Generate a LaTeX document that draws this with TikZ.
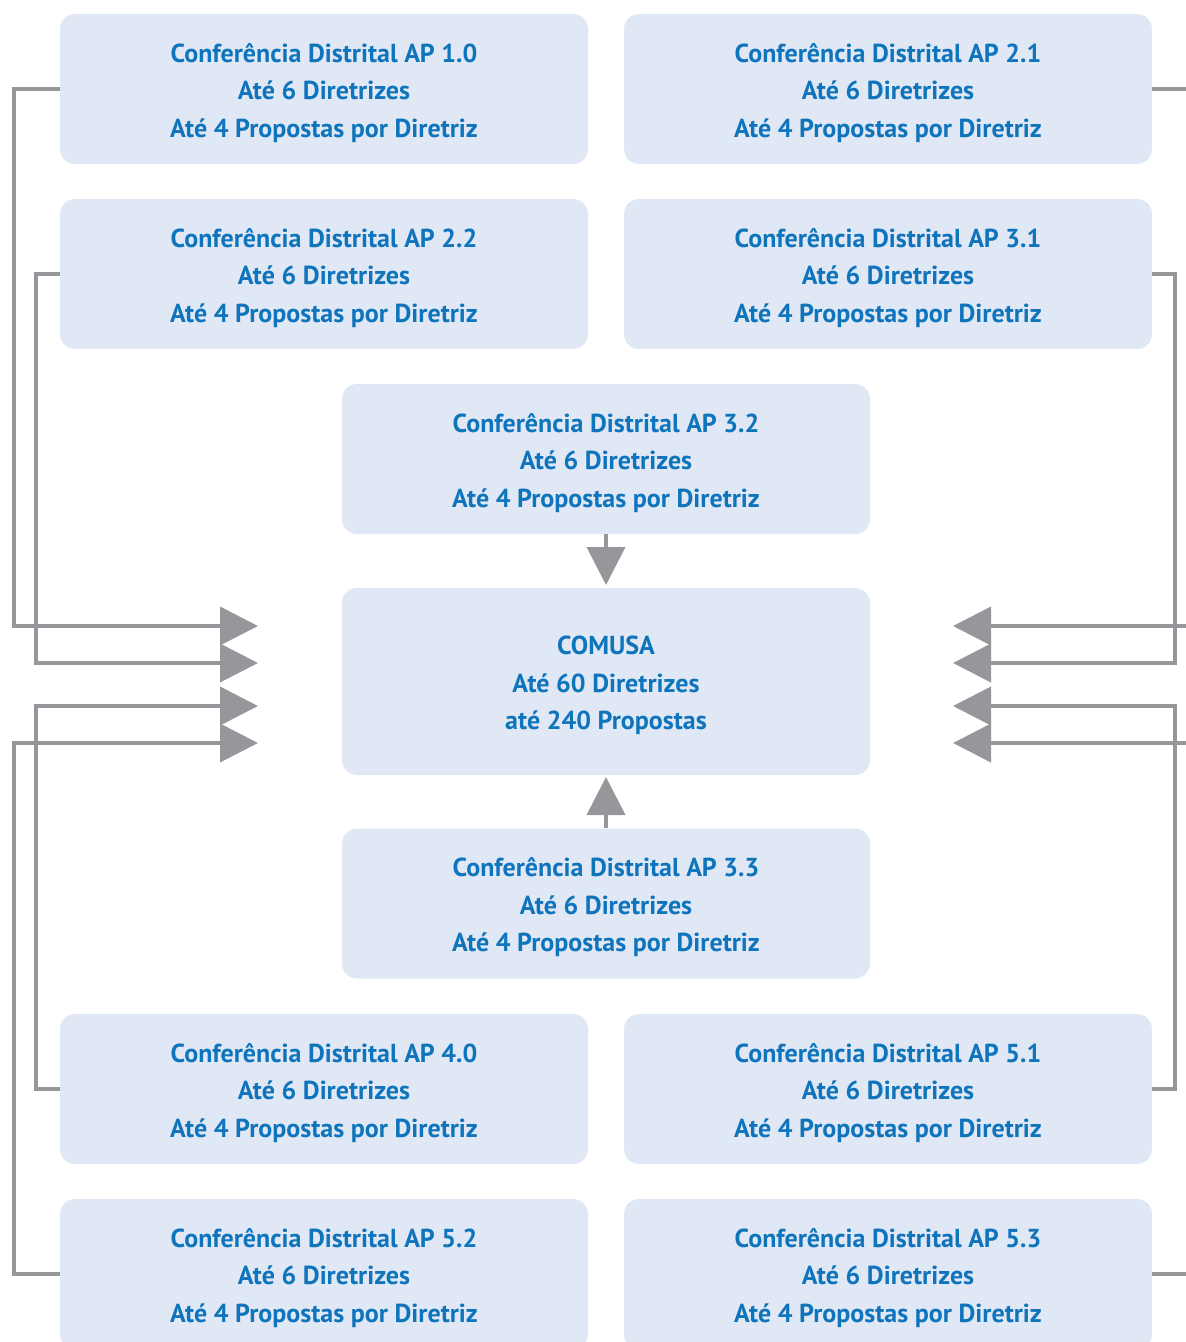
\documentclass[tikz,border=0pt]{standalone}
\usepackage{fontspec}
\setmainfont{PT Sans}
\usetikzlibrary{arrows.meta}
\definecolor{boxblue}{RGB}{225,232,245}
\definecolor{textblue}{RGB}{14,116,188}
\definecolor{linegray}{RGB}{150,151,155}

\begin{document}
\begin{tikzpicture}[x=1pt,y=-1pt,
	conf/.style={fill=boxblue,rounded corners=15pt,minimum width=528pt,minimum height=150pt,
		inner sep=0pt,align=center,text=textblue,font=\fontsize{26}{37.5}\selectfont\bfseries,
		text height=100pt,text depth=4pt},
	link/.style={draw=linegray,line width=4pt},
	tip/.style={-{Triangle[length=38pt,width=38pt]},linegray}]
	\useasboundingbox (0,0) rectangle (1186,1342);
	% boxes
	\node[conf] (ap10) at (324,89) {Conferência Distrital AP 1.0\\Até 6 Diretrizes\\Até 4 Propostas por Diretriz};
	\node[conf] (ap21) at (888,89) {Conferência Distrital AP 2.1\\Até 6 Diretrizes\\Até 4 Propostas por Diretriz};
	\node[conf] (ap22) at (324,274) {Conferência Distrital AP 2.2\\Até 6 Diretrizes\\Até 4 Propostas por Diretriz};
	\node[conf] (ap31) at (888,274) {Conferência Distrital AP 3.1\\Até 6 Diretrizes\\Até 4 Propostas por Diretriz};
	\node[conf] (ap32) at (606,459) {Conferência Distrital AP 3.2\\Até 6 Diretrizes\\Até 4 Propostas por Diretriz};
	\node[conf,minimum height=187pt] (comusa) at (606,681.5) {COMUSA\\Até 60 Diretrizes\\até 240 Propostas};
	\node[conf] (ap33) at (606,903.5) {Conferência Distrital AP 3.3\\Até 6 Diretrizes\\Até 4 Propostas por Diretriz};
	\node[conf] (ap40) at (324,1089) {Conferência Distrital AP 4.0\\Até 6 Diretrizes\\Até 4 Propostas por Diretriz};
	\node[conf] (ap51) at (888,1089) {Conferência Distrital AP 5.1\\Até 6 Diretrizes\\Até 4 Propostas por Diretriz};
	\node[conf] (ap52) at (324,1274) {Conferência Distrital AP 5.2\\Até 6 Diretrizes\\Até 4 Propostas por Diretriz};
	\node[conf] (ap53) at (888,1274) {Conferência Distrital AP 5.3\\Até 6 Diretrizes\\Até 4 Propostas por Diretriz};
	% arrow ends
	\coordinate (l1) at (258,626);
	\coordinate (l2) at (258,663);
	\coordinate (l3) at (258,706);
	\coordinate (l4) at (258,743);
	\coordinate (r1) at (953,626);
	\coordinate (r2) at (953,663);
	\coordinate (r3) at (953,706);
	\coordinate (r4) at (953,743);
	\coordinate (t1) at (606,585);
	\coordinate (t2) at (606,777);
	% left side
	\draw[link,tip] (ap10.west) -- ++(-46,0) |- (l1);
	\draw[link,tip] (ap22.west) -- ++(-24,0) |- (l2);
	\draw[link,tip] (ap40.west) -- ++(-24,0) |- (l3);
	\draw[link,tip] (ap52.west) -- ++(-46,0) |- (l4);
	% right side
	\draw[link,tip] (ap21.east) -- ++(45,0) |- (r1);
	\draw[link,tip] (ap31.east) -- ++(23,0) |- (r2);
	\draw[link,tip] (ap51.east) -- ++(23,0) |- (r3);
	\draw[link,tip] (ap53.east) -- ++(45,0) |- (r4);
	% middle
	\draw[link,tip] (ap32.south) -- (t1);
	\draw[link,tip] (ap33.north) -- (t2);
\end{tikzpicture}
\end{document}
